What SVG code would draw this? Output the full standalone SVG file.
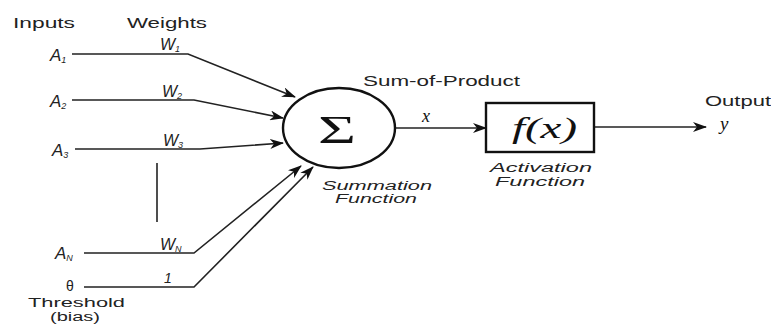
<svg xmlns="http://www.w3.org/2000/svg" width="771" height="325" viewBox="0 0 771 325">
<style>
.lbl{font-family:"Liberation Sans",Arial,sans-serif;font-size:14px;fill:#222}
.it{font-family:"Liberation Sans",Arial,sans-serif;font-size:14px;font-style:italic;fill:#222}
.sm{font-size:12.5px}
.big{font-size:17px}
.wt{font-size:16px}
.sym{font-family:"Liberation Serif","Times New Roman",serif;font-style:italic;fill:#111}
.sub{font-size:9px}
.ln{stroke:#222;stroke-width:1.6;fill:none}
</style>
<defs>
<marker id="ah" markerWidth="14" markerHeight="10" refX="13" refY="5" orient="auto" markerUnits="userSpaceOnUse">
<path d="M0,0 L14,5 L0,10 L4,5 Z" fill="#111"/>
</marker>
</defs>
<rect width="771" height="325" fill="#fff"/>
<g id="labels">
<text class="lbl" x="13" y="28" textLength="62" lengthAdjust="spacingAndGlyphs">Inputs</text>
<text class="lbl" x="127" y="28" textLength="80" lengthAdjust="spacingAndGlyphs">Weights</text>
<text class="lbl" x="363" y="86" textLength="157" lengthAdjust="spacingAndGlyphs">Sum-of-Product</text>
<text class="lbl" x="705" y="106" textLength="66" lengthAdjust="spacingAndGlyphs">Output</text>
<text class="lbl sm" x="28" y="307" textLength="97" lengthAdjust="spacingAndGlyphs">Threshold</text>
<text class="lbl sm" x="50" y="321" textLength="50" lengthAdjust="spacingAndGlyphs">(bias)</text>
</g>
<g id="inputs">
<text class="it big" x="50" y="61">A<tspan class="sub" dy="2">1</tspan></text>
<text class="it big" x="50" y="107">A<tspan class="sub" dy="2">2</tspan></text>
<text class="it big" x="52" y="156">A<tspan class="sub" dy="2">3</tspan></text>
<text class="it big" x="55" y="259">A<tspan class="sub" dy="2">N</tspan></text>
<text class="lbl" x="66" y="291">θ</text>
</g>
<g id="weights">
<text class="it wt" x="160" y="50">W<tspan class="sub" dy="2">1</tspan></text>
<text class="it wt" x="162" y="97">W<tspan class="sub" dy="2">2</tspan></text>
<text class="it wt" x="163" y="146">W<tspan class="sub" dy="2">3</tspan></text>
<text class="it wt" x="160" y="250">W<tspan class="sub" dy="2">N</tspan></text>
<text class="it" x="164" y="283">1</text>
</g>
<g id="connectors">
<polyline class="ln" points="72,54 188,54 295,97" marker-end="url(#ah)"/>
<polyline class="ln" points="72,100 194,100 283,118" marker-end="url(#ah)"/>
<polyline class="ln" points="75,149 200,149 283,143" marker-end="url(#ah)"/>
<line class="ln" x1="157" y1="163" x2="157" y2="222"/>
<polyline class="ln" points="84,253 194,253 301,166" marker-end="url(#ah)"/>
<polyline class="ln" points="84,287 194,287 313,167" marker-end="url(#ah)"/>
<line class="ln" x1="396" y1="128" x2="486" y2="128" marker-end="url(#ah)"/>
<line class="ln" x1="594" y1="127" x2="706" y2="127" marker-end="url(#ah)"/>
</g>
<g id="summation">
<ellipse cx="339" cy="128" rx="56" ry="40" fill="#fff" stroke="#111" stroke-width="2.4"/>
<text x="318" y="143" font-family="Liberation Serif,serif" font-size="40" fill="#111" textLength="38" lengthAdjust="spacingAndGlyphs">Σ</text>
<text class="it sm" x="322" y="190" textLength="110" lengthAdjust="spacingAndGlyphs">Summation</text>
<text class="it sm" x="335" y="203" textLength="82" lengthAdjust="spacingAndGlyphs">Function</text>
<text class="sym" x="422" y="122" font-size="18">x</text>
</g>
<g id="activation">
<rect x="486" y="103" width="108" height="49" fill="#fff" stroke="#111" stroke-width="2.4"/>
<text class="sym" x="512" y="138" font-size="29" textLength="65" lengthAdjust="spacingAndGlyphs">f(x)</text>
<text class="it sm" x="490" y="172" textLength="102" lengthAdjust="spacingAndGlyphs">Activation</text>
<text class="it sm" x="495" y="186" textLength="90" lengthAdjust="spacingAndGlyphs">Function</text>
</g>
<g id="output">
<text class="sym" x="720" y="130" font-size="19">y</text>
</g>
</svg>
